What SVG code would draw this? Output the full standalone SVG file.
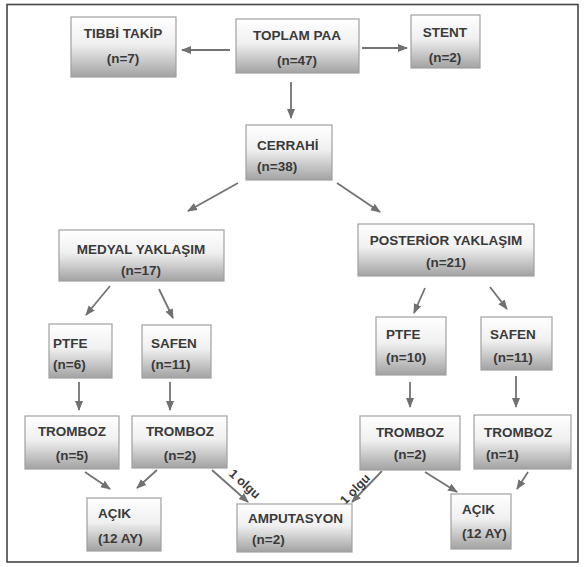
<svg xmlns="http://www.w3.org/2000/svg" width="585" height="567" viewBox="0 0 585 567">
<defs>
<linearGradient id="g" x1="0" y1="0" x2="0" y2="1">
<stop offset="0" stop-color="#ffffff"/>
<stop offset="0.45" stop-color="#f0f0f0"/>
<stop offset="1" stop-color="#a2a2a2"/>
</linearGradient>
<marker id="ah" markerUnits="userSpaceOnUse" markerWidth="10" markerHeight="10" viewBox="0 0 10 10" refX="9" refY="5" orient="auto">
<path d="M0,1 L10,5 L0,9 Z" fill="#707070"/>
</marker>
<style>
.b{fill:url(#g);stroke:#a0a0a0;stroke-width:1.2}
.t{font-family:"Liberation Sans",Arial,sans-serif;font-size:13.5px;font-weight:bold;fill:#3a3a3a}
.c{text-anchor:middle}
.e{stroke:#737373;stroke-width:1.8;fill:none;marker-end:url(#ah)}
.o{font-family:"Liberation Sans",Arial,sans-serif;font-size:12.5px;font-weight:bold;fill:#3a3a3a;text-anchor:middle}
</style>
</defs>
<rect x="0" y="0" width="585" height="567" fill="#ffffff"/>
<rect x="7" y="4.5" width="571" height="557.5" fill="none" stroke="#454545" stroke-width="1.6"/>

<g id="connectors">
<line class="e" x1="230" y1="50" x2="182" y2="50"/>
<line class="e" x1="362" y1="48" x2="407" y2="48"/>
<line class="e" x1="291" y1="82" x2="291" y2="118"/>
<line class="e" x1="238" y1="183" x2="188" y2="211"/>
<line class="e" x1="337" y1="183" x2="380" y2="212"/>
<line class="e" x1="110" y1="286" x2="86" y2="315"/>
<line class="e" x1="159" y1="289" x2="173" y2="318"/>
<line class="e" x1="425" y1="288" x2="414" y2="313"/>
<line class="e" x1="490" y1="287" x2="507" y2="309"/>
<line class="e" x1="79" y1="382" x2="79" y2="410"/>
<line class="e" x1="170" y1="382" x2="170" y2="410"/>
<line class="e" x1="410" y1="382" x2="410" y2="407"/>
<line class="e" x1="516" y1="376" x2="516" y2="407"/>
<line class="e" x1="85" y1="472" x2="110" y2="489"/>
<line class="e" x1="157" y1="470" x2="137" y2="488"/>
<line class="e" x1="212" y1="470" x2="248" y2="502"/>
<line class="e" x1="382" y1="471" x2="352" y2="502"/>
<line class="e" x1="425" y1="472" x2="457" y2="492"/>
<line class="e" x1="528" y1="472" x2="517" y2="489"/>
<text class="o" transform="translate(242,487) rotate(42)">1 olgu</text>
<text class="o" transform="translate(358,492) rotate(-46)">1 olgu</text>
</g>

<g id="tibbi"><rect class="b" x="71" y="17" width="105" height="60"/>
<text class="t c" x="123" y="38">TIBBİ TAKİP</text><text class="t c" x="123" y="63">(n=7)</text></g>
<g id="toplam"><rect class="b" x="236" y="19" width="123" height="54"/>
<text class="t c" x="297" y="40">TOPLAM PAA</text><text class="t c" x="297" y="65">(n=47)</text></g>
<g id="stent"><rect class="b" x="411" y="15" width="69" height="53"/>
<text class="t c" x="445" y="37">STENT</text><text class="t c" x="445" y="62">(n=2)</text></g>
<g id="cerrahi"><rect class="b" x="246" y="125" width="86" height="55"/>
<text class="t" x="257" y="150">CERRAHİ</text><text class="t" x="257" y="171">(n=38)</text></g>
<g id="medyal"><rect class="b" x="59" y="230" width="165" height="51"/>
<text class="t c" x="141" y="254">MEDYAL YAKLAŞIM</text><text class="t c" x="141" y="275">(n=17)</text></g>
<g id="posterior"><rect class="b" x="358" y="224" width="176" height="52"/>
<text class="t c" x="446" y="245">POSTERİOR YAKLAŞIM</text><text class="t c" x="446" y="267">(n=21)</text></g>
<g id="ptfe-l"><rect class="b" x="49" y="324" width="63" height="54"/>
<text class="t" x="53" y="348">PTFE</text><text class="t" x="53" y="369">(n=6)</text></g>
<g id="safen-l"><rect class="b" x="142" y="325" width="69" height="53"/>
<text class="t" x="151" y="348">SAFEN</text><text class="t" x="151" y="369">(n=11)</text></g>
<g id="ptfe-r"><rect class="b" x="376" y="317" width="70" height="58"/>
<text class="t" x="386" y="339">PTFE</text><text class="t" x="386" y="362">(n=10)</text></g>
<g id="safen-r"><rect class="b" x="481" y="317" width="71" height="53"/>
<text class="t c" x="513" y="339">SAFEN</text><text class="t c" x="513" y="362">(n=11)</text></g>
<g id="tromboz-5"><rect class="b" x="25" y="416" width="94" height="53"/>
<text class="t c" x="72" y="436">TROMBOZ</text><text class="t c" x="72" y="460">(n=5)</text></g>
<g id="tromboz-2l"><rect class="b" x="132" y="416" width="95" height="52"/>
<text class="t c" x="180" y="436">TROMBOZ</text><text class="t c" x="180" y="460">(n=2)</text></g>
<g id="tromboz-2r"><rect class="b" x="360" y="416" width="100" height="54"/>
<text class="t c" x="410" y="437">TROMBOZ</text><text class="t c" x="410" y="459">(n=2)</text></g>
<g id="tromboz-1"><rect class="b" x="474" y="415" width="97" height="54"/>
<text class="t" x="484" y="437">TROMBOZ</text><text class="t" x="486" y="459">(n=1)</text></g>
<g id="acik-l"><rect class="b" x="87" y="498" width="74" height="53"/>
<text class="t" x="98" y="518">AÇIK</text><text class="t" x="98" y="543">(12 AY)</text></g>
<g id="amputasyon"><rect class="b" x="237" y="504" width="115" height="48"/>
<text class="t" x="248" y="523">AMPUTASYON</text><text class="t" x="252" y="544">(n=2)</text></g>
<g id="acik-r"><rect class="b" x="451" y="494" width="60" height="55"/>
<text class="t" x="462" y="514">AÇIK</text><text class="t" x="462" y="538">(12 AY)</text></g>
</svg>
